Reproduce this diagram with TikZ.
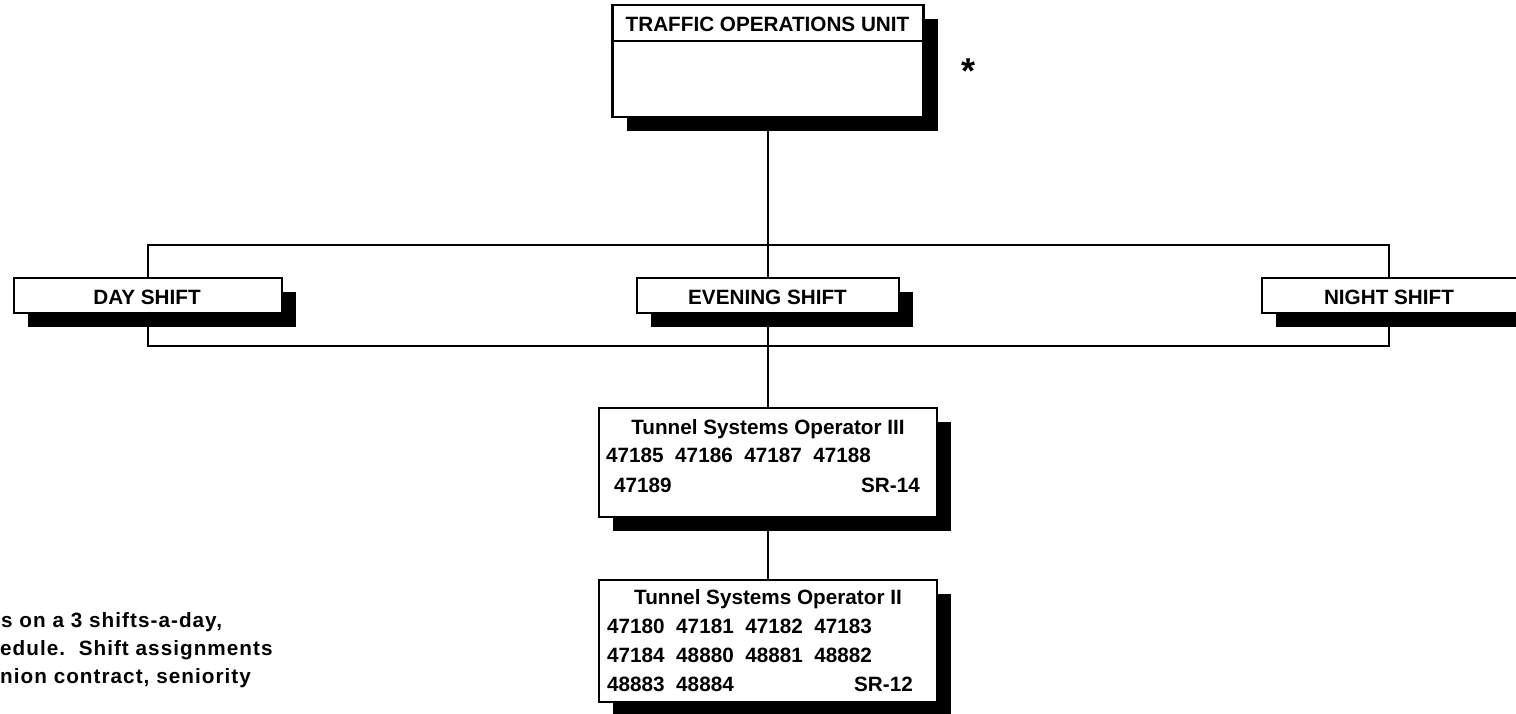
\documentclass[tikz,border=0pt]{standalone}
\usepackage{fontspec}
\setmainfont{Liberation Sans}
\usetikzlibrary{shadows,backgrounds}
\begin{document}
\begin{tikzpicture}[x=1pt,y=-1pt,
  font=\fontsize{20.7}{24}\selectfont\bfseries,
  box/.style={draw=black,fill=white,line width=2.4pt,inner sep=0pt,
    drop shadow={fill=black,opacity=1,shadow xshift=14pt,shadow yshift=-14pt}},
  plainbox/.style={draw=black,line width=2.4pt,inner sep=0pt},
  lbl/.style={inner sep=0pt,anchor=base},
  lblw/.style={inner sep=0pt,anchor=base west},
  lble/.style={inner sep=0pt,anchor=base east},
  conn/.style={line width=2.4pt}]
\useasboundingbox (0,0) rectangle (1516,713);
\clip (0,0) rectangle (1516,713);

% top unit
\node[box,minimum width=311pt,minimum height=112pt] (tou) at (768,61) {};
\node[plainbox,minimum width=311pt,minimum height=36pt] (touhead) at (768,23) {};
\node[lbl] (toutitle) at (767.5,31) {TRAFFIC OPERATIONS UNIT};
\node[anchor=base,inner sep=0pt] (star) at (968,62) {\fontsize{36}{36}\selectfont\raisebox{-0.59em}{*}};

% shifts
\node[box,minimum width=268pt,minimum height=35pt] (day) at (148,295.5) {};
\node[lbl] (daytxt) at (147,304) {DAY SHIFT};
\node[box,minimum width=262pt,minimum height=35pt] (eve) at (768,295.5) {};
\node[lbl] (evetxt) at (767.5,304) {EVENING SHIFT};
\node[box,minimum width=268pt,minimum height=35pt] (night) at (1396,295.5) {};
\node[lbl] (nighttxt) at (1389,304) {NIGHT SHIFT};
\coordinate (nightc) at (1389,295.5);

% TSO III
\node[box,minimum width=338pt,minimum height=109pt] (tso3) at (768,462.5) {};
\node[lbl] (tso3t) at (768,434) {Tunnel Systems Operator III};
\node[lblw] (tso3a) at (606,462) {47185~~47186~~47187~~47188};
\node[lblw] (tso3b) at (614,492) {47189};
\node[lble] (tso3c) at (920,492) {SR-14};

% TSO II
\node[box,minimum width=338pt,minimum height=122pt] (tso2) at (768,641) {};
\node[lbl] (tso2t) at (768,604) {Tunnel Systems Operator II};
\node[lblw] (tso2a) at (607,633) {47180~~47181~~47182~~47183};
\node[lblw] (tso2b) at (607,662) {47184~~48880~~48881~~48882};
\node[lblw] (tso2c) at (607,691) {48883~~48884};
\node[lble] (tso2d) at (913,691) {SR-12};

% note
\begin{scope}[font=\fontsize{20.7}{24}\selectfont\bfseries\addfontfeature{LetterSpace=5}]
\node[lblw] (note1) at (1,627) {s on a 3 shifts-a-day,};
\node[lblw] (note2) at (0,655) {edule.~~Shift assignments};
\node[lblw] (note3) at (0,683) {nion contract, seniority};
\end{scope}

\begin{scope}[on background layer]
\draw[conn] (tou.south) -- (eve.north);
\draw[conn] (day.north) -- ++(0,-32) -| (nightc |- night.north);
\draw[conn] (day.south) -- ++(0,32) -| (nightc |- night.south);
\draw[conn] (eve.south) -- (tso3.north);
\draw[conn] (tso3.south) -- (tso2.north);
\end{scope}
\end{tikzpicture}
\end{document}
